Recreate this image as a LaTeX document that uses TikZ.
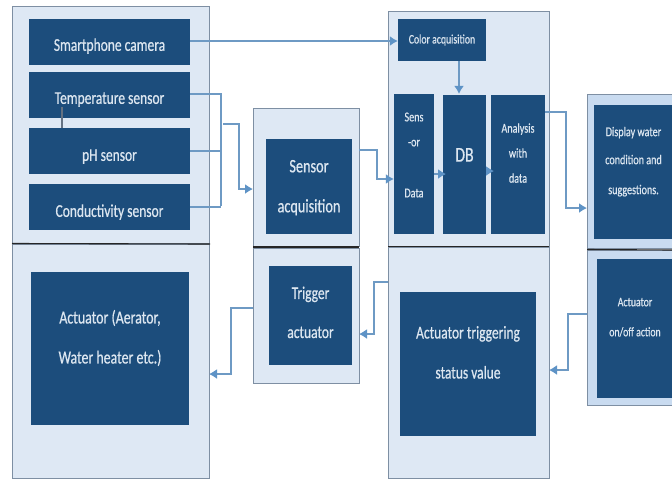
\documentclass[tikz,border=0pt]{standalone}
\usepackage{fontspec}
\setmainfont{Carlito}[FakeStretch=0.75,FakeBold=0.6]
\usetikzlibrary{arrows.meta,positioning,calc}
\definecolor{panelfill}{HTML}{DEE8F4}
\definecolor{panelfilldark}{HTML}{C9DBF0}
\definecolor{panelline}{HTML}{7E8FA3}
\definecolor{boxfill}{HTML}{1C4D7C}
\definecolor{boxtext}{HTML}{DCE6F0}
\definecolor{wire}{HTML}{6E9AC4}
\definecolor{tipc}{HTML}{5E93C6}
\tikzset{
  x=1pt,y=-1pt,
  panel/.style={draw=panelline,line width=1pt,fill=panelfill},
  paneldark/.style={draw=panelline,line width=1pt,fill=panelfilldark},
  bx/.style={fill=boxfill,draw=none,inner sep=0pt,text=boxtext,align=center,font=\fontsize{#1}{#1}\selectfont},
  bx/.default=14,
  wireline/.style={draw=wire,line width=1.4pt},
  arrowline/.style={wireline,-{Latex[length=8pt,width=10pt,color=tipc]}},
  divider/.style={draw=black!85,line width=1.1pt},
  thin link/.style={draw=panelline!80!black,line width=1.1pt}
}
\newcommand{\Bx}[6]{% name x1 y1 x2 y2 fontsize
  \node[bx=#6,minimum width=#4-#2,minimum height=#5-#3] (#1) at ({(#2+#4)/2},{(#3+#5)/2})}
\begin{document}
\begin{tikzpicture}
\useasboundingbox (0,0) rectangle (672,480);
\fill[white] (0,0) rectangle (672,480);
% panels
\path[panel] (12,6) rectangle (209,243);
\path[panel] (12,244) rectangle (209,478);
\path[panel] (253,108) rectangle (359,246);
\path[panel] (253,248) rectangle (359,383);
\path[panel] (388,11) rectangle (549,246);
\path[panel] (388,247) rectangle (549,478);
\path[paneldark] (587,94) rectangle (673,248);
\path[paneldark] (587,250) rectangle (673,405);
\coordinate (lbot) at (209,374);
\coordinate (mtop) at (253,189);
\coordinate (mtopo) at (359,150);
\coordinate (mbot) at (253,308);
\coordinate (mboti) at (359,334);
\coordinate (ctop) at (388,179);
\coordinate (cbot) at (388,282);
\coordinate (cboti) at (549,370);
\coordinate (rtop) at (587,208);
\coordinate (rbot) at (587,314);
% boxes
\Bx{cam}{29}{19}{190}{65}{18} {\strut\\[-10pt]Smartphone camera};
\Bx{temp}{29}{72}{190}{118}{18} {\strut\\[-10pt]Temperature sensor};
\Bx{ph}{29}{128}{190}{174}{18} {\strut\\[-8pt]pH sensor};
\Bx{cond}{29}{184}{190}{230}{18} {\strut\\[-8pt]Conductivity sensor};
\Bx{sens}{266}{139}{352}{234}{19} {Sensor\\[21pt]acquisition\\[-24pt]\strut};
\Bx{trig}{269}{266}{352}{365}{18} {Trigger\\[21pt]actuator\\[-17pt]\strut};
\Bx{act}{31}{272}{189}{425}{18.5} {Actuator (Aerator,\\[21.5pt]Water heater etc.)\\[-0.5pt]\strut};
\Bx{col}{398}{19}{486}{61}{13} {Color acquisition};
\Bx{sdata}{394}{94}{434}{234}{13.5} {Sens\\[11.5pt]-or\\[37.5pt]Data\\[0.5pt]\strut};
\Bx{db}{443}{95}{486}{234}{21} {DB\\[-8pt]\strut};
\Bx{ana}{491}{95}{545}{234}{13.5} {Analysis\\[11.5pt]with\\[11.5pt]data\\[5.5pt]\strut};
\Bx{disp}{594}{105}{673}{239}{13.5} {Display water\\[14.5pt]condition and\\[16.5pt]suggestions.\\[5.5pt]\strut};
\Bx{onoff}{597}{259}{673}{398}{13} {Actuator\\[17pt]on/off action\\[6pt]\strut};
\Bx{stat}{400}{292}{536}{436}{18} {Actuator triggering\\[22pt]status value\\[0pt]\strut};
% dividers
\draw[divider] (12,243.5) -- (210,244);
\draw[divider] (253,247) -- (359,247);
\draw[divider] (388,246.5) -- (549,246.5);
\draw[divider] (587,249.5) -- (672,250);
% connectors
\coordinate (bus) at (221,96);
\coordinate (busend) at (221,206);
\coordinate (busout) at (223,124);
\draw[thin link] (62,107) -- (62,128);
\draw[arrowline] ([yshift=1pt]cam.east) -- ([yshift=1pt]cam.east -| col.west);
\draw[wireline] ([yshift=1pt]temp.east) -| (busend);
\draw[wireline] (ph.east) -- (ph.east -| bus);
\draw[wireline] (cond.east) -- (cond.east -| bus);
\draw[arrowline] (busout) -- ++(16,0) |- (mtop);
\draw[arrowline] (mtopo) -- ++(18,0) |- (ctop -| sdata.west);
\draw[arrowline] (col.south -| 459,0) -- (sdata.north -| 459,0);
\draw[arrowline] (434,174) -- (446,174);
\draw[arrowline] (486,171) -- (494,171);
\draw[arrowline] (545,112) -- ++(21,0) |- (rtop);
\draw[arrowline] (rbot) -- ++(-19,0) |- (cboti);
\draw[arrowline] (cbot) -- ++(-14,0) |- (mboti);
\draw[arrowline] (mbot) -- ++(-22,0) |- (lbot);
\end{tikzpicture}
\end{document}
